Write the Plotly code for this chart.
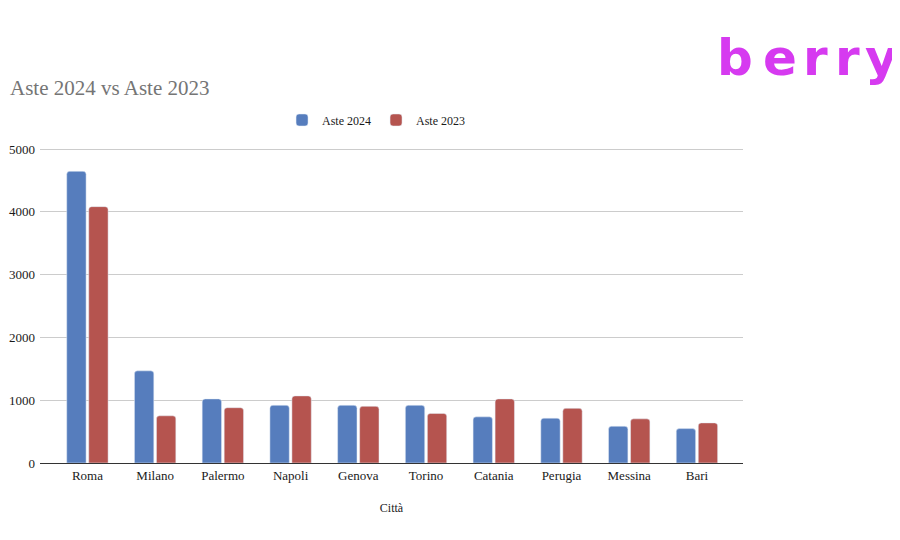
import plotly.graph_objects as go

cities = ["Roma", "Milano", "Palermo", "Napoli", "Genova", "Torino", "Catania", "Perugia", "Messina", "Bari"]
aste_2024 = [4647, 1468, 1021, 919, 919, 919, 735, 714, 585, 548]
aste_2023 = [4084, 752, 881, 1069, 903, 790, 1021, 871, 703, 639]
y_ticks = [0, 1000, 2000, 3000, 4000, 5000]

SERIF = "Liberation Serif, Times New Roman, serif"

# page body has an 8px margin; figure coordinates are offset accordingly
PL, PR, PT, PB = 32, 735, 138, 455

fig = go.Figure()
fig.add_trace(go.Bar(name="Aste 2024", x=cities, y=aste_2024, marker_color="#567DBD"))
fig.add_trace(go.Bar(name="Aste 2023", x=cities, y=aste_2023, marker_color="#B5544F"))

fig.update_layout(
    width=900, height=540,
    margin=dict(l=PL, r=900 - PR, t=PT, b=540 - PB),
    paper_bgcolor="white", plot_bgcolor="white",
    barmode="group", bargap=0.35, bargroupgap=0.12, barcornerradius=3,
    font=dict(family=SERIF, size=13, color="#1a1a1a"),
    title=dict(text="Aste 2024 vs Aste 2023", x=2/900, xref="container", xanchor="left",
               y=1-80/540, yref="container", yanchor="middle",
               font=dict(family=SERIF, size=21, color="#757575")),
    legend=dict(orientation="h", x=0.478, xanchor="center", y=1 + (PT - 112) / (PB - PT), yanchor="middle",
                font=dict(family=SERIF, size=12, color="#1a1a1a"), itemwidth=30),
    xaxis=dict(range=[-0.7, 9.68], showgrid=False, showline=True, linecolor="#333333", linewidth=1,
               ticks="", automargin=False, tickfont=dict(size=13),
               title=dict(text="Città", standoff=22, font=dict(size=12))),
    yaxis=dict(range=[0, 5050], tickvals=y_ticks, showgrid=True, gridcolor="#CCCCCC",
               zeroline=False, ticks="", automargin=False, ticklabelstandoff=4,
               tickfont=dict(size=13)),
)

logo_letters = ["b", "e", "r", "r", "y"]
logo_x = [735, 780, 815, 847, 881]
for ch, lx in zip(logo_letters, logo_x):
    fig.add_annotation(text="<b>" + ch + "</b>", xref="paper", yref="paper",
                       x=(lx - 8 - PL) / (PR - PL), y=1 + (PT - 50) / (PB - PT),
                       xanchor="center", yanchor="middle", showarrow=False,
                       font=dict(family="DejaVu Sans", size=50, color="#D63AF0"))

fig.write_html("out.html")
